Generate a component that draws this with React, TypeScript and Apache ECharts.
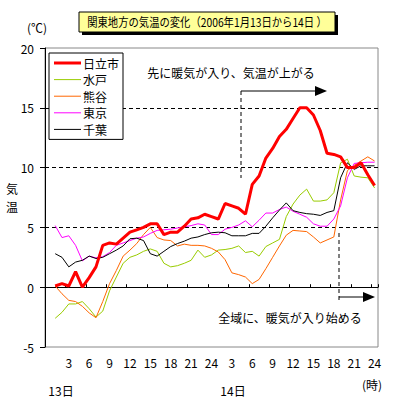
import React, { useEffect, useRef } from "react";
import * as echarts from "echarts";

const hours: string[] = Array.from({ length: 49 }, (_, i) => String(i));
const seriesNames = ["日立市", "水戸", "熊谷", "東京", "千葉"];
const seriesColors = ["#FF0000", "#99CC00", "#FF6600", "#FF00FF", "#000000"];
const seriesWidths = [3, 1, 1, 1, 1];

const hitachi = [0.1, 0.3, 0.1, 1.3, 0.0, 0.8, 1.7, 3.5, 3.7, 3.6, 4.1, 4.6, 4.8, 5.0, 5.3, 5.3, 4.4, 4.6, 4.6, 5.1, 5.7, 5.8, 6.1, 5.9, 5.7, 7.0, 6.8, 6.6, 6.1, 8.6, 9.3, 10.8, 11.6, 12.6, 13.2, 14.1, 15.0, 15.0, 14.4, 13.1, 11.2, 11.1, 10.9, 10.0, 10.0, 10.4, 9.4, 8.5];
const mito = [-2.6, -2.1, -1.4, -1.4, -1.2, -1.8, -2.5, -2.0, -0.3, 0.85, 2.0, 2.5, 2.7, 3.0, 3.2, 3.0, 2.0, 1.7, 1.8, 2.0, 2.25, 3.1, 2.5, 2.7, 3.1, 3.15, 3.25, 3.45, 2.9, 3.0, 2.6, 3.4, 3.7, 4.0, 5.9, 6.95, 7.7, 8.2, 7.2, 7.2, 7.3, 7.9, 10.4, 10.7, 9.3, 9.2, 9.15, 8.3];
const kumagaya = [0.1, -0.55, -1.1, -1.2, -1.6, -2.15, -2.55, -1.2, 0.3, 1.4, 2.6, 3.1, 3.65, 4.4, 5.0, 4.15, 3.95, 3.9, 3.45, 3.6, 3.5, 3.5, 3.45, 3.25, 2.95, 2.3, 1.2, 1.05, 0.85, 0.3, 0.65, 1.55, 2.5, 3.45, 4.35, 4.75, 4.7, 4.65, 4.2, 3.7, 3.95, 4.2, 7.3, 9.75, 10.2, 10.55, 10.9, 10.55];
const tokyo = [5.15, 4.15, 4.3, 3.5, 2.2, 2.6, 2.45, 2.55, 2.9, 3.5, 3.7, 3.9, 4.1, 4.2, 4.5, 4.75, 4.8, 4.85, 4.95, 5.05, 5.15, 5.3, 5.2, 4.4, 4.4, 4.85, 5.0, 5.2, 5.55, 5.05, 5.6, 6.2, 6.2, 6.5, 6.7, 6.35, 6.1, 5.85, 5.3, 5.1, 5.1, 5.7, 6.8, 9.15, 10.35, 10.4, 10.45, 10.45];
const chiba = [2.8, 2.5, 1.7, 2.1, 2.25, 2.6, 2.4, 2.5, 2.8, 3.1, 3.45, 4.05, 4.1, 3.9, 2.8, 2.6, 3.0, 3.4, 3.65, 3.85, 4.1, 4.2, 4.4, 4.55, 4.6, 4.55, 4.3, 4.3, 4.3, 4.5, 4.5, 5.1, 5.8, 6.45, 7.05, 6.4, 6.25, 6.15, 6.1, 6.0, 6.25, 6.4, 9.15, 10.4, 9.85, 10.15, 10.15, 10.15];
const seriesValues = [hitachi, mito, kumagaya, tokyo, chiba];

const titleText = "関東地方の気温の変化（2006年1月13日から14日 ）";
const note1 = "先に暖気が入り、気温が上がる";
const note2 = "全域に、暖気が入り始める";

const FONT = "'Noto Sans CJK JP', 'Noto Sans', sans-serif";

export default function App() {
  const ref = useRef<HTMLDivElement>(null);
  useEffect(() => {
    if (!ref.current) return;
    const chart = echarts.init(ref.current, null, { renderer: "svg" });
    const dash = [4, 3];
    chart.setOption({
      animation: false,
      textStyle: { fontFamily: FONT },
      grid: { left: 45, top: 48, right: 21, bottom: 52, show: true, borderColor: "#888", borderWidth: 1 },
      legend: {
        orient: "vertical",
        left: 49,
        top: 53,
        data: seriesNames.map((name, k) => ({
          name,
          icon: "path://M0,0h27v" + seriesWidths[k] + "h-27z",
          itemStyle: { color: seriesColors[k] },
        })),
        backgroundColor: "#fff",
        borderColor: "#000",
        borderWidth: 1,
        padding: [4, 4, 4, 5],
        itemGap: 4.6,
        itemWidth: 27,
        itemHeight: 12,
        textStyle: { fontSize: 12, color: "#000", fontFamily: FONT, padding: [0, 0, 0, -3] },
      },
      xAxis: {
        type: "category",
        data: hours,
        boundaryGap: true,
        axisLine: { lineStyle: { color: "#000", width: 1 } },
        axisTick: {
          show: true,
          inside: true,
          length: 3,
          interval: (i: number) => i > 0 && i % 3 === 0,
          lineStyle: { color: "#000" },
        },
        axisLabel: {
          interval: (i: number) => i > 0 && i % 3 === 0,
          formatter: (v: string) => String(((Number(v) - 1) % 24) + 1),
          color: "#000",
          fontSize: 12,
          margin: 9,
          fontFamily: FONT,
        },
        splitLine: { show: false },
      },
      yAxis: {
        type: "value",
        min: -5,
        max: 20,
        interval: 5,
        axisLine: { show: true, lineStyle: { color: "#000", width: 1 } },
        axisTick: { show: true, length: 5, lineStyle: { color: "#000" } },
        axisLabel: { color: "#000", fontSize: 12, margin: 11, fontFamily: FONT },
        splitLine: {
          show: true,
          lineStyle: {
            color: ["rgba(0,0,0,0)", "#000", "#000", "#000", "#000", "rgba(0,0,0,0)"],
            type: dash,
            width: 1,
          },
        },
      },
      series: seriesNames.map((name, k) => ({
        name,
        type: "line",
        data: [null, ...seriesValues[k]],
        symbol: "none",
        connectNulls: false,
        color: seriesColors[k],
        lineStyle: { color: seriesColors[k], width: seriesWidths[k] },
        z: k === 0 ? 3 : 2,
      })),
      graphic: [
        { type: "rect", shape: { x: 82, y: 15, width: 256, height: 20 }, style: { fill: "#000" }, z: 10 },
        { type: "rect", shape: { x: 79, y: 12, width: 256, height: 20 }, style: { fill: "#FFFF99", stroke: "#000", lineWidth: 1 }, z: 11 },
        { type: "text", x: 207, y: 22, scaleX: 0.86, style: { text: titleText, fontSize: 12, fill: "#000", fontFamily: FONT, align: "center", verticalAlign: "middle" }, z: 12 },
        { type: "text", x: 37, y: 27, style: { text: "(℃)", fontSize: 12, fill: "#000", fontFamily: FONT, align: "center", verticalAlign: "middle" } },
        { type: "text", x: 12, y: 197, style: { text: "気\n温", fontSize: 12, lineHeight: 18, fill: "#000", fontFamily: FONT, align: "center", verticalAlign: "middle" } },
        { type: "text", x: 61, y: 390, style: { text: "13日", fontSize: 12, fill: "#000", fontFamily: FONT, align: "center", verticalAlign: "middle" } },
        { type: "text", x: 233, y: 390, style: { text: "14日", fontSize: 12, fill: "#000", fontFamily: FONT, align: "center", verticalAlign: "middle" } },
        { type: "text", x: 372, y: 384, style: { text: "(時)", fontSize: 12, fill: "#000", fontFamily: FONT, align: "center", verticalAlign: "middle" } },
        { type: "text", x: 231, y: 72, style: { text: note1, fontSize: 12, fill: "#000", fontFamily: FONT, align: "center", verticalAlign: "middle" }, z: 20 },
        { type: "line", shape: { x1: 241, y1: 91, x2: 241, y2: 178 }, style: { stroke: "#000", lineWidth: 1, lineDash: dash }, z: 20 },
        { type: "line", shape: { x1: 241, y1: 91, x2: 316, y2: 91 }, style: { stroke: "#000", lineWidth: 1 }, z: 20 },
        { type: "polygon", shape: { points: [[315, 86], [327, 91], [315, 96]] }, style: { fill: "#000" }, z: 20 },
        { type: "line", shape: { x1: 339, y1: 233, x2: 339, y2: 302 }, style: { stroke: "#000", lineWidth: 1, lineDash: dash }, z: 20 },
        { type: "line", shape: { x1: 339, y1: 297, x2: 364, y2: 297 }, style: { stroke: "#000", lineWidth: 1 }, z: 20 },
        { type: "polygon", shape: { points: [[363, 292], [375, 297], [363, 302]] }, style: { fill: "#000" }, z: 20 },
        { type: "text", x: 290, y: 317, style: { text: note2, fontSize: 12, fill: "#000", fontFamily: FONT, align: "center", verticalAlign: "middle" }, z: 20 },
      ],
    });
    return () => chart.dispose();
  }, []);
  return <div ref={ref} style={{ width: 399, height: 399, position: "absolute", left: 0, top: 0 }} />;
}
